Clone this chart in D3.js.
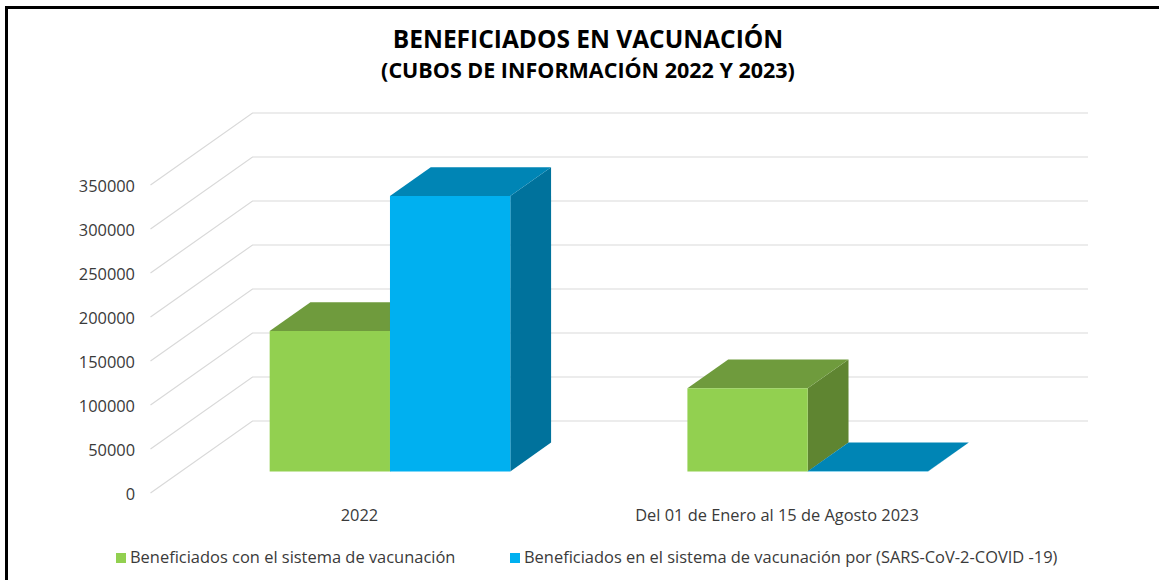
<!DOCTYPE html>
<html><head><meta charset="utf-8">
<script src="https://cdn.jsdelivr.net/npm/d3@7"></script>
<style>html,body{margin:0;padding:0;background:#fff}svg{display:block}</style></head>
<body><svg id="c" width="1159" height="580"></svg>
<script>
const categories = ["2022", "Del 01 de Enero al 15 de Agosto 2023"];
const seriesNames = ["Beneficiados con el sistema de vacunación", "Beneficiados en el sistema de vacunación por (SARS-CoV-2-COVID -19)"];
const seriesGreen = [159500, 94500];
const seriesBlue = [313000, 100];
const yTicks = [0, 50000, 100000, 150000, 200000, 250000, 300000, 350000];
const titleLines = ["BENEFICIADOS EN VACUNACIÓN", "(CUBOS DE INFORMACIÓN 2022 Y 2023)"];
const frontColors = ["#92d050", "#00b0f0"];
const topColors = ["#6f9b3d", "#0085b5"];
const sideColors = ["#5f8531", "#00729c"];

const svg = d3.select("#c");
const y = d3.scaleLinear().domain([0, 350000]).range([493, 185]);
const x = d3.scaleBand().domain(categories).range([150.5, 986]);
const depthX = d3.scaleLinear().domain([0, 1]).range([0, 102]);
const depthY = d3.scaleLinear().domain([0, 1]).range([0, -72]);
const gridRight = 1088;

// frame
svg.append("path").attr("d", "M6.5,580V7.5H1159").attr("fill", "none").attr("stroke", "#000").attr("stroke-width", 3);

// gridlines and value labels
yTicks.forEach(t => {
  svg.append("path").attr("fill", "none").attr("stroke", "#d9d9d9").attr("stroke-width", 1.2)
    .attr("d", d3.line()([[x.range()[0], y(t)], [x.range()[0] + depthX(1), y(t) + depthY(1)], [gridRight, y(t) + depthY(1)]]));
  svg.append("text").attr("x", 135).attr("y", y(t) + 1).attr("dy", "0.35em").attr("text-anchor", "end")
    .attr("font-family", "Open Sans").attr("font-size", 16.4).attr("fill", "#3a3a3a").text(t);
});

// bars
const bars = x.bandwidth() * 0.288;
const inset = (x.bandwidth() - 2 * bars) / 2;
const d0 = 0.3, d1 = 0.7;
const P = (px, v, d) => [px + depthX(d), y(v) + depthY(d)];
const poly = (pts, fill) => svg.append("polygon").attr("points", pts.join(" ")).attr("fill", fill);
categories.forEach((c, i) => {
  [seriesGreen[i], seriesBlue[i]].forEach((v, s) => {
    const xl = x(c) + inset + s * bars, xr = xl + bars;
    poly([P(xr, 0, d0), P(xr, v, d0), P(xr, v, d1), P(xr, 0, d1)], sideColors[s]);
    poly([P(xl, v, d0), P(xr, v, d0), P(xr, v, d1), P(xl, v, d1)], topColors[s]);
    poly([P(xl, 0, d0), P(xr, 0, d0), P(xr, v, d0), P(xl, v, d0)], frontColors[s]);
  });
  svg.append("text").attr("x", [359.5, 777][i]).attr("y", 521).attr("text-anchor", "middle")
    .attr("font-family", "Open Sans").attr("font-size", 16.4).attr("fill", "#3a3a3a").text(c);
});

// title
svg.append("text").attr("x", 588).attr("y", 47.5).attr("text-anchor", "middle")
  .attr("font-family", "Open Sans").attr("font-weight", 700).attr("font-size", 24.5).attr("fill", "#000").text(titleLines[0]);
svg.append("text").attr("x", 588).attr("y", 78).attr("text-anchor", "middle")
  .attr("font-family", "Open Sans").attr("font-weight", 700).attr("font-size", 21.5).attr("fill", "#000").text(titleLines[1]);

// legend
const legendX = [116, 510];
seriesNames.forEach((n, i) => {
  svg.append("rect").attr("x", legendX[i]).attr("y", 553).attr("width", 10).attr("height", 10).attr("fill", frontColors[i]);
  svg.append("text").attr("x", legendX[i] + 14).attr("y", 563).attr("font-family", "Open Sans").attr("font-size", 16.45).attr("fill", "#3a3a3a").text(n);
});
</script></body></html>
